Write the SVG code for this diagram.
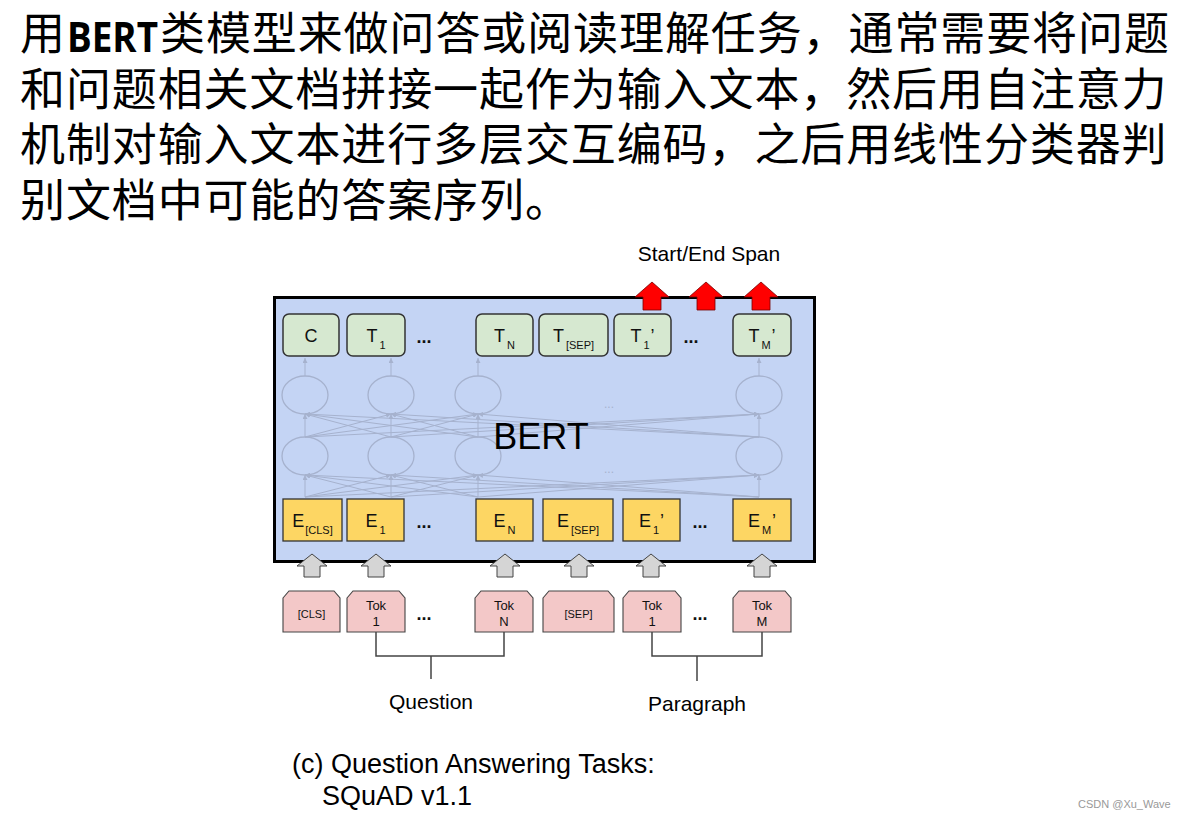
<svg xmlns="http://www.w3.org/2000/svg" width="1188" height="820" viewBox="0 0 1188 820">
<defs>
<style>
.cn{font-family:"Noto Sans CJK SC","Noto Sans",sans-serif;font-size:45px;letter-spacing:0.9px;fill:#000}
.bert{font-family:"Open Sans","Noto Sans",sans-serif;font-size:41px;font-weight:bold;fill:#000}
.lbl{font-family:"Liberation Sans",Arial,sans-serif;font-size:18px;fill:#111;text-anchor:middle}
.sub{font-size:11px}
.tok{font-family:"Liberation Sans",Arial,sans-serif;font-size:13px;fill:#111;text-anchor:middle}
.sm{font-size:11px}
.dots{font-family:"Liberation Sans",Arial,sans-serif;font-size:18px;font-weight:bold;fill:#111;text-anchor:middle}
.txt{font-family:"Liberation Sans",Arial,sans-serif;fill:#000}
.g{fill:#d6e8d0;stroke:#333;stroke-width:1.5}
.y{fill:#fdd663;stroke:#333;stroke-width:1.3}
.p{fill:#f3c8c8;stroke:#444;stroke-width:1.1}
.ga{fill:#d5d5d5;stroke:#444;stroke-width:1}
.ra{fill:#ff0000;stroke:#700;stroke-width:0.8}
.net line{stroke:#a6b2ce;stroke-width:1}
.net ellipse{fill:none;stroke:#a6b2ce;stroke-width:1.3}
.br{stroke:#444;stroke-width:1.5;fill:none}
</style>
<marker id="ah" viewBox="0 0 10 10" refX="10" refY="5" markerWidth="5" markerHeight="5" orient="auto" markerUnits="strokeWidth">
<path d="M0,0 L10,5 L0,10 z" fill="#a6b2ce"/>
</marker>
</defs>
<rect width="1188" height="820" fill="#fff"/>

<!-- Chinese paragraph -->
<g id="intro">
<text class="cn" x="20" y="50">用</text>
<text class="bert" x="67" y="52" textLength="91" lengthAdjust="spacingAndGlyphs">BERT</text>
<text class="cn" x="160" y="50">类模型来做问答或阅读理解任务，通常需要将问题</text>
<text class="cn" x="20" y="106">和问题相关文档拼接一起作为输入文本，然后用自注意力</text>
<text class="cn" x="20" y="161">机制对输入文本进行多层交互编码，之后用线性分类器判</text>
<text class="cn" x="20" y="217">别文档中可能的答案序列。</text>
</g>

<!-- BERT container -->
<g id="bert">
<rect x="274.5" y="297.5" width="540" height="264" fill="#c4d4f4" stroke="#000" stroke-width="3"/>
<g class="net">
<line x1="305" y1="497" x2="305" y2="475" marker-end="url(#ah)"/>
<line x1="305" y1="497" x2="391" y2="475" marker-end="url(#ah)"/>
<line x1="305" y1="497" x2="478" y2="475" marker-end="url(#ah)"/>
<line x1="305" y1="497" x2="759" y2="475" marker-end="url(#ah)"/>
<line x1="391" y1="497" x2="305" y2="475" marker-end="url(#ah)"/>
<line x1="391" y1="497" x2="391" y2="475" marker-end="url(#ah)"/>
<line x1="391" y1="497" x2="478" y2="475" marker-end="url(#ah)"/>
<line x1="391" y1="497" x2="759" y2="475" marker-end="url(#ah)"/>
<line x1="478" y1="497" x2="305" y2="475" marker-end="url(#ah)"/>
<line x1="478" y1="497" x2="391" y2="475" marker-end="url(#ah)"/>
<line x1="478" y1="497" x2="478" y2="475" marker-end="url(#ah)"/>
<line x1="478" y1="497" x2="759" y2="475" marker-end="url(#ah)"/>
<line x1="759" y1="497" x2="305" y2="475" marker-end="url(#ah)"/>
<line x1="759" y1="497" x2="391" y2="475" marker-end="url(#ah)"/>
<line x1="759" y1="497" x2="478" y2="475" marker-end="url(#ah)"/>
<line x1="759" y1="497" x2="759" y2="475" marker-end="url(#ah)"/>
<line x1="305" y1="437" x2="305" y2="414" marker-end="url(#ah)"/>
<line x1="305" y1="437" x2="391" y2="414" marker-end="url(#ah)"/>
<line x1="305" y1="437" x2="478" y2="414" marker-end="url(#ah)"/>
<line x1="305" y1="437" x2="759" y2="414" marker-end="url(#ah)"/>
<line x1="391" y1="437" x2="305" y2="414" marker-end="url(#ah)"/>
<line x1="391" y1="437" x2="391" y2="414" marker-end="url(#ah)"/>
<line x1="391" y1="437" x2="478" y2="414" marker-end="url(#ah)"/>
<line x1="391" y1="437" x2="759" y2="414" marker-end="url(#ah)"/>
<line x1="478" y1="437" x2="305" y2="414" marker-end="url(#ah)"/>
<line x1="478" y1="437" x2="391" y2="414" marker-end="url(#ah)"/>
<line x1="478" y1="437" x2="478" y2="414" marker-end="url(#ah)"/>
<line x1="478" y1="437" x2="759" y2="414" marker-end="url(#ah)"/>
<line x1="759" y1="437" x2="305" y2="414" marker-end="url(#ah)"/>
<line x1="759" y1="437" x2="391" y2="414" marker-end="url(#ah)"/>
<line x1="759" y1="437" x2="478" y2="414" marker-end="url(#ah)"/>
<line x1="759" y1="437" x2="759" y2="414" marker-end="url(#ah)"/>
<line x1="305" y1="376" x2="305" y2="358" marker-end="url(#ah)"/>
<line x1="391" y1="376" x2="391" y2="358" marker-end="url(#ah)"/>
<line x1="478" y1="376" x2="478" y2="358" marker-end="url(#ah)"/>
<line x1="759" y1="376" x2="759" y2="358" marker-end="url(#ah)"/>
<ellipse cx="305" cy="395" rx="23" ry="19"/>
<ellipse cx="391" cy="395" rx="23" ry="19"/>
<ellipse cx="478" cy="395" rx="23" ry="19"/>
<ellipse cx="759" cy="395" rx="23" ry="19"/>
<ellipse cx="305" cy="456" rx="23" ry="19"/>
<ellipse cx="391" cy="456" rx="23" ry="19"/>
<ellipse cx="478" cy="456" rx="23" ry="19"/>
<ellipse cx="759" cy="456" rx="23" ry="19"/>
<text x="609" y="408" font-family="Liberation Sans, Arial, sans-serif" font-size="12" fill="#a6b2ce" text-anchor="middle">...</text>
<text x="609" y="473" font-family="Liberation Sans, Arial, sans-serif" font-size="12" fill="#a6b2ce" text-anchor="middle">...</text>
</g>
<text class="txt" x="541" y="449" font-size="36" text-anchor="middle">BERT</text>
</g>

<!-- Output (green) row -->
<g id="out-C"><rect class="g" x="283" y="314" width="56" height="42" rx="6"/><text class="lbl" x="311" y="342">C</text></g>
<g id="out-T1"><rect class="g" x="347" y="314" width="58" height="42" rx="6"/><text class="lbl" x="376" y="342">T<tspan class="sub" dx="2" dy="7">1</tspan></text></g>
<text class="dots" x="424" y="343">...</text>
<g id="out-TN"><rect class="g" x="476" y="314" width="57" height="42" rx="6"/><text class="lbl" x="504.5" y="342">T<tspan class="sub" dx="2" dy="7">N</tspan></text></g>
<g id="out-TSEP"><rect class="g" x="539" y="314" width="69" height="42" rx="6"/><text class="lbl" x="573.5" y="342">T<tspan class="sub" dx="2" dy="7">[SEP]</tspan></text></g>
<g id="out-T1p"><rect class="g" x="614" y="314" width="57" height="42" rx="6"/><text class="lbl" x="642.5" y="342">T<tspan class="sub" dx="2" dy="7">1</tspan><tspan dx="1" dy="-7">’</tspan></text></g>
<text class="dots" x="691" y="343">...</text>
<g id="out-TMp"><rect class="g" x="733" y="314" width="58" height="42" rx="6"/><text class="lbl" x="762" y="342">T<tspan class="sub" dx="2" dy="7">M</tspan><tspan dx="1" dy="-7">’</tspan></text></g>

<!-- Embedding (yellow) row -->
<g id="emb-CLS"><rect class="y" x="283" y="499" width="59" height="42"/><text class="lbl" x="312.5" y="527">E<tspan class="sub" dx="1" dy="7">[CLS]</tspan></text></g>
<g id="emb-1"><rect class="y" x="347" y="499" width="57" height="42"/><text class="lbl" x="375.5" y="527">E<tspan class="sub" dx="2" dy="7">1</tspan></text></g>
<text class="dots" x="424" y="528">...</text>
<g id="emb-N"><rect class="y" x="476" y="499" width="57" height="42"/><text class="lbl" x="504.5" y="527">E<tspan class="sub" dx="2" dy="7">N</tspan></text></g>
<g id="emb-SEP"><rect class="y" x="543" y="499" width="70" height="42"/><text class="lbl" x="578" y="527">E<tspan class="sub" dx="2" dy="7">[SEP]</tspan></text></g>
<g id="emb-1p"><rect class="y" x="623" y="499" width="57" height="42"/><text class="lbl" x="651.5" y="527">E<tspan class="sub" dx="2" dy="7">1</tspan><tspan dx="1" dy="-7">’</tspan></text></g>
<text class="dots" x="700" y="528">...</text>
<g id="emb-Mp"><rect class="y" x="733" y="499" width="58" height="42"/><text class="lbl" x="762" y="527">E<tspan class="sub" dx="2" dy="7">M</tspan><tspan dx="1" dy="-7">’</tspan></text></g>

<!-- Connectors -->
<g id="connectors">
<path class="ra" d="M652,282 L669,297 L661,297 L661,310 L643,310 L643,297 L635,297 Z"/>
<path class="ra" d="M706,282 L723,297 L715,297 L715,310 L697,310 L697,297 L689,297 Z"/>
<path class="ra" d="M761,282 L778,297 L770,297 L770,310 L752,310 L752,297 L744,297 Z"/>
<path class="ga" d="M312,554 L327,566 L320,566 L320,577 L304,577 L304,566 L297,566 Z"/>
<path class="ga" d="M376,554 L391,566 L384,566 L384,577 L368,577 L368,566 L361,566 Z"/>
<path class="ga" d="M505,554 L520,566 L513,566 L513,577 L497,577 L497,566 L490,566 Z"/>
<path class="ga" d="M579,554 L594,566 L587,566 L587,577 L571,577 L571,566 L564,566 Z"/>
<path class="ga" d="M651,554 L666,566 L659,566 L659,577 L643,577 L643,566 L636,566 Z"/>
<path class="ga" d="M762,554 L777,566 L770,566 L770,577 L754,577 L754,566 L747,566 Z"/>
<path class="br" d="M376,632 V656 H504 V632 M431,656 V679"/>
<path class="br" d="M652,632 V656 H762 V632 M697,656 V681"/>
</g>

<!-- Token (pink) row -->
<g id="tok-CLS"><path class="p" d="M283,598 L289,591 L334,591 L340,598 L340,632 L283,632 Z"/><text class="tok sm" x="311.5" y="618">[CLS]</text></g>
<g id="tok-1"><path class="p" d="M347,598 L353,591 L399,591 L405,598 L405,632 L347,632 Z"/><text class="tok" x="376" y="610">Tok</text><text class="tok" x="376" y="626">1</text></g>
<text class="dots" x="424" y="620">...</text>
<g id="tok-N"><path class="p" d="M475,598 L481,591 L527,591 L533,598 L533,632 L475,632 Z"/><text class="tok" x="504" y="610">Tok</text><text class="tok" x="504" y="626">N</text></g>
<g id="tok-SEP"><path class="p" d="M543,598 L549,591 L608,591 L614,598 L614,632 L543,632 Z"/><text class="tok sm" x="578.5" y="618">[SEP]</text></g>
<g id="tok-1p"><path class="p" d="M623,598 L629,591 L675,591 L681,598 L681,632 L623,632 Z"/><text class="tok" x="652" y="610">Tok</text><text class="tok" x="652" y="626">1</text></g>
<text class="dots" x="700" y="620">...</text>
<g id="tok-M"><path class="p" d="M733,598 L739,591 L785,591 L791,598 L791,632 L733,632 Z"/><text class="tok" x="762" y="610">Tok</text><text class="tok" x="762" y="626">M</text></g>

<!-- Labels -->
<text class="txt" x="709" y="261" font-size="21" text-anchor="middle">Start/End Span</text>
<text class="txt" x="431" y="709" font-size="21" text-anchor="middle">Question</text>
<text class="txt" x="697" y="711" font-size="21" text-anchor="middle">Paragraph</text>
<text class="txt" x="292" y="773" font-size="27">(c) Question Answering Tasks:</text>
<text class="txt" x="322" y="805" font-size="27">SQuAD v1.1</text>
<text x="1078" y="808" font-family="Liberation Sans, Arial, sans-serif" font-size="11" fill="#999">CSDN @Xu_Wave</text>
</svg>
